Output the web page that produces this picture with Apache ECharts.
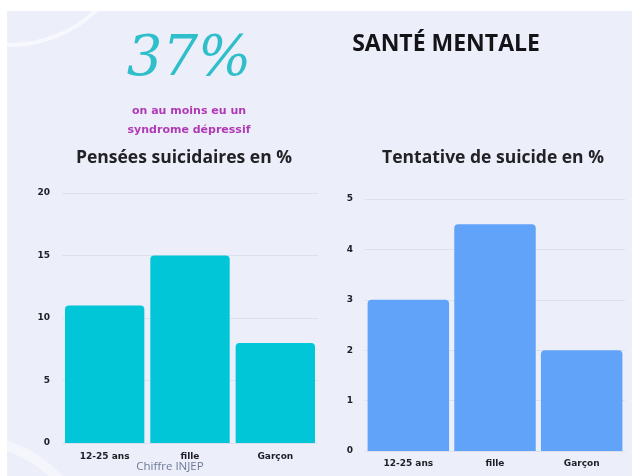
<!DOCTYPE html>
<html>
<head>
<meta charset="utf-8">
<script src="https://cdn.jsdelivr.net/npm/echarts@6/dist/echarts.min.js"></script>
<style>
  html, body { margin: 0; padding: 0; background: #ffffff; }
  #chart { width: 632px; height: 476px; }
</style>
</head>
<body>
<div id="chart"></div>
<script>
// data
var categories = ["12-25 ans", "fille", "Garçon"];
var penseesValues = [11, 15, 8];
var tentativeValues = [3, 4.5, 2];
var penseesTicks = [0, 5, 10, 15, 20];
var tentativeTicks = [0, 1, 2, 3, 4, 5];

var chart = echarts.init(document.getElementById("chart"));

var axisLabelStyle = {
    fontFamily: "DejaVu Sans",
    fontWeight: "bold",
    fontSize: 9,
    color: "#1e1e24"
};

var option = {
    backgroundColor: "#ffffff",
    animation: false,
    graphic: [
        { type: "rect", shape: { x: 7, y: 11, width: 625, height: 465 }, style: { fill: "#eceefa" }, z: -10 },
        { type: "circle", shape: { cx: 10, cy: -80, r: 125 }, style: { fill: "none", stroke: "rgba(255,255,255,0.6)", lineWidth: 4 }, z: -9 },
        { type: "circle", shape: { cx: -30, cy: 560, r: 120 }, style: { fill: "none", stroke: "rgba(255,255,255,0.45)", lineWidth: 10 }, z: -9 },
        { type: "rect", shape: { x: 0, y: 0, width: 632, height: 11 }, style: { fill: "#ffffff" }, z: -8 },
        { type: "rect", shape: { x: 0, y: 0, width: 7, height: 476 }, style: { fill: "#ffffff" }, z: -8 },
        {
            type: "text", x: 189, y: 60,
            style: { text: "37%", font: "italic 56px 'DejaVu Serif'", fill: "#2fbfca", align: "center", verticalAlign: "middle" }
        },
        {
            type: "text", x: 189, y: 111,
            style: { text: "on au moins eu un", font: "bold 11px 'DejaVu Sans'", fill: "#b03ab6", align: "center", verticalAlign: "middle" }
        },
        {
            type: "text", x: 189, y: 130,
            style: { text: "syndrome dépressif", font: "bold 11px 'DejaVu Sans'", fill: "#b03ab6", align: "center", verticalAlign: "middle" }
        },
        {
            type: "text", x: 446, y: 44,
            style: { text: "SANTÉ MENTALE", font: "bold 23px 'Open Sans'", fill: "#141418", align: "center", verticalAlign: "middle" }
        },
        {
            type: "text", x: 184, y: 158,
            style: { text: "Pensées suicidaires en %", font: "bold 17.5px 'Open Sans'", fill: "#222226", align: "center", verticalAlign: "middle" }
        },
        {
            type: "text", x: 493, y: 158,
            style: { text: "Tentative de suicide en %", font: "bold 17.5px 'Open Sans'", fill: "#222226", align: "center", verticalAlign: "middle" }
        },
        {
            type: "text", x: 170, y: 467,
            style: { text: "Chiffre INJEP", font: "11.5px 'Open Sans'", fill: "#6f7a96", align: "center", verticalAlign: "middle" }
        }
    ],
    grid: [
        { left: 62, top: 193, width: 256, height: 250 },
        { left: 365, top: 199, width: 260, height: 252 }
    ],
    xAxis: [
        {
            type: "category", gridIndex: 0, data: categories,
            axisLine: { show: false }, axisTick: { show: false },
            axisLabel: Object.assign({ margin: 9 }, axisLabelStyle)
        },
        {
            type: "category", gridIndex: 1, data: categories,
            axisLine: { show: false }, axisTick: { show: false },
            axisLabel: Object.assign({ margin: 8 }, axisLabelStyle)
        }
    ],
    yAxis: [
        {
            type: "value", gridIndex: 0, min: penseesTicks[0], max: penseesTicks[penseesTicks.length - 1], interval: 5,
            axisLine: { show: false }, axisTick: { show: false },
            splitLine: { lineStyle: { color: "#dde0ec", width: 1 } },
            axisLabel: Object.assign({ margin: 12 }, axisLabelStyle)
        },
        {
            type: "value", gridIndex: 1, min: tentativeTicks[0], max: tentativeTicks[tentativeTicks.length - 1], interval: 1,
            axisLine: { show: false }, axisTick: { show: false },
            splitLine: { lineStyle: { color: "#dde0ec", width: 1 } },
            axisLabel: Object.assign({ margin: 12 }, axisLabelStyle)
        }
    ],
    series: [
        {
            type: "bar", xAxisIndex: 0, yAxisIndex: 0, data: penseesValues,
            barCategoryGap: "7%",
            itemStyle: { color: "#00c6d7", borderRadius: [4, 4, 0, 0] }
        },
        {
            type: "bar", xAxisIndex: 1, yAxisIndex: 1, data: tentativeValues,
            barCategoryGap: "6%",
            itemStyle: { color: "#60a3f8", borderRadius: [4, 4, 0, 0] }
        }
    ]
};

chart.setOption(option);
</script>
</body>
</html>
